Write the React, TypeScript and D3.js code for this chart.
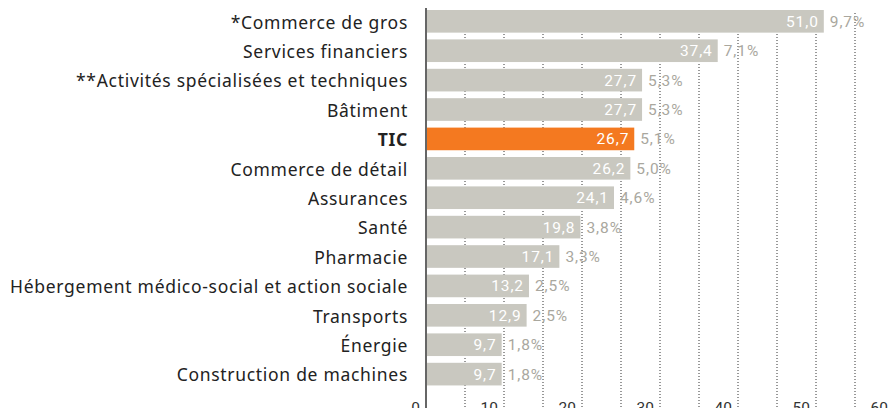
import { useMemo } from "react";
import * as d3 from "d3";

// Sector labels, top to bottom
const CATEGORIES = [
  "*Commerce de gros",
  "Services financiers",
  "**Activités spécialisées et techniques",
  "Bâtiment",
  "TIC",
  "Commerce de détail",
  "Assurances",
  "Santé",
  "Pharmacie",
  "Hébergement médico-social et action sociale",
  "Transports",
  "Énergie",
  "Construction de machines",
];

const VALUES = [51.0, 37.4, 27.7, 27.7, 26.7, 26.2, 24.1, 19.8, 17.1, 13.2, 12.9, 9.7, 9.7];
const SHARES = [9.7, 7.1, 5.3, 5.3, 5.1, 5.0, 4.6, 3.8, 3.3, 2.5, 2.5, 1.8, 1.8];
const HIGHLIGHT = "TIC";
const X_TICKS = [0, 10, 20, 30, 40, 50, 60];
const GRID_STEPS = d3.range(5, 61, 5);

const W = 896;
const H = 416;
const LABEL_FONT = "'Noto Sans', sans-serif";
const NUM_FONT = "Roboto, sans-serif";
const fmt = (v: number) => v.toFixed(1).replace(".", ",");

export default function App() {
  const left = 426;
  const top = 10;
  const step = 29.4;
  const padInner = 0.23;

  const x = useMemo(() => d3.scaleLinear().domain([0, 60]).range([left, 894]), []);
  const y = useMemo(
    () =>
      d3
        .scaleBand<string>()
        .domain(CATEGORIES)
        .range([top, top + step * (CATEGORIES.length - padInner)])
        .paddingInner(padInner)
        .paddingOuter(0),
    []
  );

  return (
    <div style={{ margin: -8 }}>
      <svg width={W} height={H} style={{ display: "block" }}>
        {/* dotted grid */}
        {GRID_STEPS.map((g) => (
          <line
            key={g}
            x1={x(g)}
            x2={x(g)}
            y1={13}
            y2={H}
            stroke="#333"
            strokeWidth={1}
            strokeDasharray="1 2"
          />
        ))}

        {/* bars */}
        {CATEGORIES.map((c, i) => {
          const y0 = y(c) || 0;
          const bh = y.bandwidth();
          const cy = y0 + bh / 2;
          const x1 = x(VALUES[i]);
          const hl = c === HIGHLIGHT;
          return (
            <g key={c}>
              <rect
                x={x(0) + 1}
                y={y0}
                width={x1 - x(0) - 1}
                height={bh}
                fill={hl ? "#f47920" : "#c9c8c0"}
              />
              <text
                x={x1 - 5}
                y={cy}
                dy="0.36em"
                textAnchor="end"
                fill="#fff"
                fontFamily={NUM_FONT}
                fontSize={15.5}
                letterSpacing={0.9}
              >
                {fmt(VALUES[i])}
              </text>
              <text
                x={x1 + 6}
                y={cy}
                dy="0.36em"
                fill="#a9a79e"
                fontFamily={NUM_FONT}
                fontSize={15.5}
                letterSpacing={0.9}
              >
                {fmt(SHARES[i])}%
              </text>
              <text
                x={408}
                y={cy + 1}
                dy="0.36em"
                textAnchor="end"
                fill="#222"
                fontFamily={LABEL_FONT}
                fontSize={17.5}
                letterSpacing={0.7}
                fontWeight={hl ? 700 : 400}
              >
                {c}
              </text>
            </g>
          );
        })}

        {/* axis */}
        <line x1={x(0)} x2={x(0)} y1={8} y2={H} stroke="#333" strokeWidth={1.5} />
        {X_TICKS.map((t) => (
          <text
            key={t}
            x={x(t) - 6}
            y={413}
            textAnchor="end"
            fill="#333"
            fontFamily={NUM_FONT}
            fontSize={15.5}
          >
            {t}
          </text>
        ))}
      </svg>
    </div>
  );
}
